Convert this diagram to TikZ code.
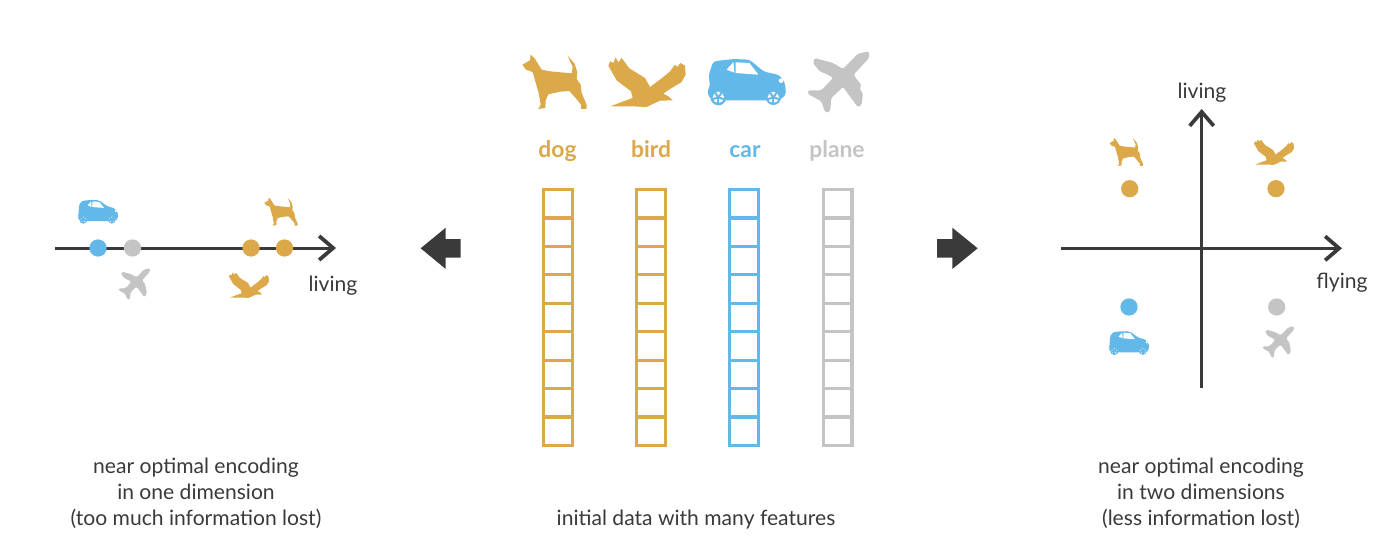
\documentclass[tikz,border=0pt]{standalone}
\usepackage{fontspec}
\setmainfont{Lato}
\usepackage{tikz}
\usetikzlibrary{arrows.meta,positioning}
\definecolor{gold}{HTML}{DBA84A}
\definecolor{skyblue}{HTML}{62B8E9}
\definecolor{lightgray}{HTML}{C4C4C4}
\definecolor{darkgray}{HTML}{3A3A3A}
\tikzset{
  axisline/.style={darkgray, line width=0.06cm, -{Straight Barb[length=0.28cm,width=0.48cm,line width=0.075cm]}},
  caption/.style={text=darkgray, font=\fontsize{12}{14.75}\selectfont, align=center, inner sep=0pt},
  axislabel/.style={caption, anchor=base},
  title/.style={font=\fontsize{13}{15}\selectfont\bfseries, inner sep=0pt, anchor=base},
  cell/.style={draw=#1, line width=0.066cm, minimum width=0.574cm, minimum height=0.569cm, inner sep=0pt, outer sep=0pt},
  dot/.style={circle, fill=#1, minimum size=0.345cm, inner sep=0pt},
  dogicon/.pic={
    \fill [gold, shift={(-162,-157)}] (67,105) -- (90,92) -- (92,75) -- (105,88) -- (125,120) -- (150,125) -- (215,131) -- (218,112) -- (203,78) -- (224,102) -- (232,128) -- (230,148) -- (242,165) -- (245,190) -- (260,225) -- (260,238) -- (243,238) -- (243,225) -- (225,203) -- (208,184) -- (180,186) -- (145,194) -- (137,212) -- (136,235) -- (115,238) -- (122,225) -- (116,190) -- (106,155) -- (98,127) -- (78,120) -- cycle;
  },
  birdicon/.pic={
    \fill [gold, shift={(-441,-157)}] (325,108) -- (330,95) -- (340,100) -- (347,83) -- (355,98) -- (365,85) -- (388,116) -- (435,145) -- (450,172) -- (490,142) -- (510,125) -- (525,105) -- (532,112) -- (541,100) -- (555,108) -- (557,135) -- (545,157) -- (510,178) -- (490,192) -- (505,200) -- (518,212) -- (480,213) -- (440,232) -- (400,230) -- (332,230) -- (370,215) -- (398,205) -- (393,185) -- (350,152) -- cycle;
  },
  caricon/.pic={
    \begin{scope}[shift={(-740,-157)}]
    \fill [skyblue, rounded corners=0.06cm] (640,95) -- (700,88) -- (748,90) -- (792,126) -- (838,136) -- (855,160) -- (858,195) -- (838,212) -- (680,212) -- (630,208) -- (621,185) -- (630,170) -- (626,135) -- cycle;
    \fill [white] (680,120) -- (700,97) -- (703,129) -- cycle;
    \fill [white] (707,98) -- (748,100) -- (775,135) -- (707,130) -- cycle;
    \fill [white] (843,153) circle (7);
    \fill [skyblue] (655,203) circle (24);
    \fill [skyblue] (820,203) circle (23);
    \foreach \wheelx in {655,820} {
      \fill [white] (\wheelx,203) circle (17);
      \foreach \ang in {0,72,144,216,288}
        \draw [skyblue, line width=0.04cm] (\wheelx,203) -- +(\ang+90:18);
    }
    \end{scope}
  },
  planeicon/.pic={
    \fill [lightgray, rounded corners=0.03cm, shift={(-1015,-157)}] (1108,65) -- (1108,85) -- (1062,135) -- (1072,150) -- (1085,165) -- (1080,180) -- (1090,190) -- (1086,225) -- (1075,233) -- (1030,172) -- (995,205) -- (992,240) -- (985,250) -- (975,245) -- (965,215) -- (925,193) -- (925,182) -- (965,182) -- (1000,145) -- (985,135) -- (960,125) -- (940,100) -- (945,85) -- (1000,100) -- (1030,118) -- (1075,72) -- cycle;
  }
}
\begin{document}
\begin{tikzpicture}[x=0.02cm,y=-0.02cm]
\useasboundingbox (0,0) rectangle (1400,554);

% top row
\pic [scale=0.3333] at (554,82) {dogicon};
\pic [scale=0.3333] at (647,82) {birdicon};
\pic [scale=0.3333] at (746.7,82) {caricon};
\pic [scale=0.3333] at (838,82) {planeicon};
\node [title, text=gold] (doglabel) at (557.5,157) {dog};
\node [title, text=gold] (birdlabel) at (651,157) {bird};
\node [title, text=skyblue] (carlabel) at (745,157) {car};
\node [title, text=lightgray] (planelabel) at (837,157) {plane};

% feature columns
\foreach \name/\x/\col in {dog/558/gold,bird/651/gold,car/744/skyblue,plane/837.7/lightgray}
  \foreach \i in {0,...,8}
    \node [cell=\col] (\name\i) at (\x,{203.7+28.45*\i}) {};
\node [axislabel] (initial) at (696,525) {initial data with many features};

% block arrows
\fill [darkgray] (420.7,248.3) -- (445.7,227.7) -- (445.7,239) -- (460.7,239) -- (460.7,257.7) -- (445.7,257.7) -- (445.7,269) -- cycle;
\fill [darkgray] (977.7,248.3) -- (952.3,227.7) -- (952.3,239) -- (937,239) -- (937,257.7) -- (952.3,257.7) -- (952.3,269) -- cycle;

% one dimension
\coordinate (linestart) at (55,248);
\coordinate (lineend) at (336,248);
\draw [axisline] (linestart) -- (lineend);
\node [dot=skyblue] (cardot) at (98,248) {};
\node [dot=lightgray] (planedot) at (132.5,248) {};
\node [dot=gold] (birddot) at (251,248) {};
\node [dot=gold] (dogdot) at (284.5,248) {};
\pic [scale=0.172] at (98,211.7) {caricon};
\pic [scale=0.172] at (134,284) {planeicon};
\pic [scale=0.172] at (249,285) {birdicon};
\pic [scale=0.172] at (280.7,211.7) {dogicon};
\node [axislabel] (livingone) at (333,291) {living};
\node [caption] (captionone) at (196,493) {near optimal encoding\\in one dimension\\(too much information lost)};

% two dimensions
\coordinate (xstart) at (1061,248.3);
\coordinate (xend) at (1342,248.3);
\coordinate (ystart) at (1201.7,388);
\coordinate (yend) at (1201.7,109);
\draw [axisline] (xstart) -- (xend);
\draw [axisline] (ystart) -- (yend);
\node [dot=gold] (dogdottwo) at (1129.7,188.7) {};
\node [dot=gold] (birddottwo) at (1276,188.7) {};
\node [dot=skyblue] (cardottwo) at (1129,307) {};
\node [dot=lightgray] (planedottwo) at (1276.7,307) {};
\pic [scale=0.172] at (1126,152) {dogicon};
\pic [scale=0.172] at (1274,152) {birdicon};
\pic [scale=0.172] at (1129,343) {caricon};
\pic [scale=0.172] at (1278,342) {planeicon};
\node [axislabel] (livingtwo) at (1202,98.5) {living};
\node [axislabel] (flying) at (1342,288.5) {flying};
\node [caption] (captiontwo) at (1201,493) {near optimal encoding\\in two dimensions\\(less information lost)};
\end{tikzpicture}
\end{document}
